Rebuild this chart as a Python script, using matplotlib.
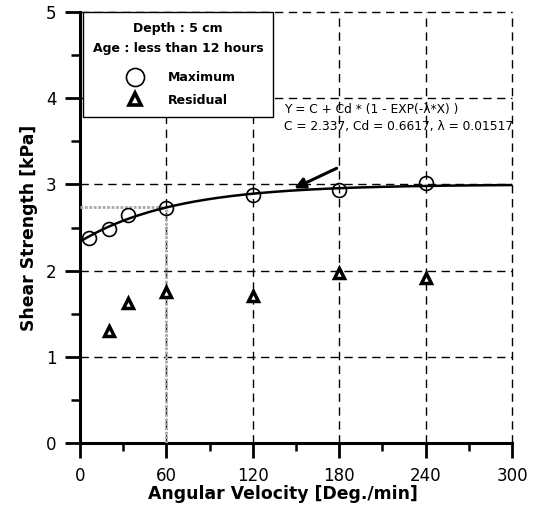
import numpy as np
import matplotlib
matplotlib.use("Agg")
import matplotlib.pyplot as plt
from matplotlib.lines import Line2D

plt.rcParams['font.family'] = ['DejaVu Sans']

# Data
max_x = [6, 20, 33, 60, 120, 180, 240]
max_y = [2.38, 2.48, 2.65, 2.73, 2.88, 2.94, 3.01]
res_x = [20, 33, 60, 120, 180, 240]
res_y = [1.30, 1.63, 1.75, 1.71, 1.97, 1.92]

# Fit parameters
C, Cd, lam = 2.337, 0.6617, 0.01517
ref_x = 60

x_ticks = [0, 60, 120, 180, 240, 300]
y_ticks = [0, 1, 2, 3, 4, 5]

fig = plt.figure(figsize=(5.39, 5.12), dpi=100)
ax = fig.add_axes([80 / 539, 1 - 443.3 / 512, 432 / 539, 431.6 / 512])

xf = np.linspace(0, 300, 301)
yf = C + Cd * (1 - np.exp(-lam * xf))
ax.plot(xf, yf, color='black', lw=1.8, zorder=4)

y_ref = C + Cd * (1 - np.exp(-lam * ref_x))
ax.plot([0, ref_x], [y_ref, y_ref], color='#aaaaaa', lw=2.0, ls=(0, (1, 0.6)), zorder=3,
        solid_capstyle='butt', dash_capstyle='butt')
ax.plot([ref_x, ref_x], [0, y_ref], color='#aaaaaa', lw=2.0, ls=(0, (1, 0.6)), zorder=3,
        solid_capstyle='butt', dash_capstyle='butt')

ax.plot(max_x, max_y, ls='none', marker='o', ms=10, mfc='none', mec='black', mew=1.2, zorder=5)
ax.plot(res_x, res_y, ls='none', marker='^', ms=7, mfc='white', mec='black', mew=2.5, zorder=5)

ax.set_xlim(0, 300)
ax.set_ylim(0, 5)
ax.set_xticks(x_ticks)
ax.set_yticks(y_ticks)
ax.set_xticks([30, 90, 150, 210, 270], minor=True)
ax.set_yticks([0.5, 1.5, 2.5, 3.5, 4.5], minor=True)
ax.tick_params(axis='both', which='major', direction='out', length=10.8, width=2.0, labelsize=12)
ax.tick_params(axis='x', which='major', pad=6)
ax.tick_params(axis='y', which='major', pad=6)
ax.tick_params(axis='x', which='minor', direction='out', length=5.5, width=1.8)
ax.tick_params(axis='y', which='minor', direction='out', length=6.5, width=1.8)

for x in x_ticks[1:]:
    ax.axvline(x, color='black', lw=1.0, ls=(0, (6, 4)), zorder=1, clip_on=False)
for y in y_ticks[1:]:
    ax.axhline(y, color='black', lw=1.0, ls=(0, (6, 4)), zorder=1, clip_on=False)

for s in ['top', 'right']:
    ax.spines[s].set_visible(False)
for s in ['left', 'bottom']:
    ax.spines[s].set_linewidth(2.2)

ax.set_xlabel('Angular Velocity [Deg./min]', fontsize=12.4, fontweight='bold')
ax.xaxis.set_label_coords(0.47, -0.118, transform=ax.transAxes)
ax.xaxis.label.set_va('center')
ax.set_ylabel('Shear Strength [kPa]', fontsize=12.4, fontweight='bold', labelpad=6)

ax.text(142, 3.87, 'Y = C + Cd * (1 - EXP(-λ*X) )', fontsize=8.8, va='center', ha='left')
ax.text(142, 3.67, f'C = {C}, Cd = {Cd}, λ = {lam}', fontsize=8.8, va='center', ha='left')
ax.annotate('', xy=(147, 2.94), xytext=(180, 3.2),
            arrowprops=dict(arrowstyle='-|>', color='black', lw=2.2, mutation_scale=16))

handles = [
    Line2D([], [], ls='none', marker='o', ms=13, mfc='none', mec='black', mew=1.2),
    Line2D([], [], ls='none', marker='^', ms=8, mfc='white', mec='black', mew=2.6),
]
leg = ax.legend(handles, ['Maximum', 'Residual'],
                title='Depth : 5 cm\nAge : less than 12 hours',
                loc='upper left', bbox_to_anchor=(0.006, 1.0), borderaxespad=0,
                frameon=True, fancybox=False, framealpha=1, edgecolor='black',
                prop={'weight': 'bold', 'size': 9}, title_fontproperties={'weight': 'bold', 'size': 9},
                alignment='center',
                handletextpad=1.4, borderpad=0.8, labelspacing=0.75, handlelength=2.5)
leg.get_frame().set_linewidth(1.0)
leg.get_title().set_multialignment('center')
leg.get_title().set_linespacing(1.7)
leg._legend_box.sep = 12
leg.set_zorder(10)

fig.savefig('out.png', dpi=100)
